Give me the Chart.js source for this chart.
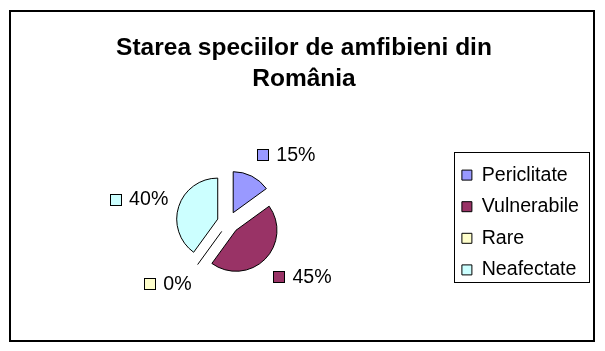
<!DOCTYPE html>
<html lang="ro">
<head>
<meta charset="utf-8">
<title>Starea speciilor de amfibieni din România</title>
<script src="https://cdn.jsdelivr.net/npm/chart.js@4.4.1/dist/chart.umd.min.js"></script>
<style>
  html, body { margin: 0; padding: 0; background: #fff; }
  canvas { display: block; }
</style>
</head>
<body>
<canvas id="grafic" width="605" height="351"></canvas>
<script>
// Datele graficului
const categorii = ['Periclitate', 'Vulnerabile', 'Rare', 'Neafectate'];
const procente = [15, 45, 0, 40];
const culori = ['#9999ff', '#993366', '#ffffcc', '#ccffff'];
const titlu = ['Starea speciilor de amfibieni din', 'România'];

const FONT = "'Liberation Sans', Arial, sans-serif";
const EXPLOZIE = 11; // cat de departe sunt impinse feliile fata de centru

// Feliile "explodate": fiecare arc e mutat pe bisectoarea lui, apoi desenat de Chart.js
const feliiExplodate = {
    id: 'feliiExplodate',
    beforeDatasetDraw(chart, args) {
        const ctx = chart.ctx;
        args.meta.data.forEach((arc) => {
            const mij = (arc.startAngle + arc.endAngle) / 2;
            ctx.save();
            ctx.translate(Math.cos(mij) * EXPLOZIE, Math.sin(mij) * EXPLOZIE);
            if (arc.endAngle - arc.startAngle === 0) {
                // felie de 0% -> doar o linie, ca in Excel
                ctx.beginPath();
                ctx.moveTo(arc.x, arc.y);
                ctx.lineTo(arc.x + Math.cos(arc.startAngle) * arc.outerRadius,
                           arc.y + Math.sin(arc.startAngle) * arc.outerRadius);
                ctx.strokeStyle = '#000';
                ctx.lineWidth = 1;
                ctx.stroke();
            } else {
                arc.draw(ctx);
            }
            ctx.restore();
        });
        return false;
    }
};

// Etichete cu procent + patratel de legenda
const eticheteProcente = {
    id: 'eticheteProcente',
    afterDatasetsDraw(chart) {
        const ctx = chart.ctx;
        const meta = chart.getDatasetMeta(0);
        const total = procente.reduce((a, b) => a + b, 0);
        ctx.save();
        ctx.font = '19.6px ' + FONT;
        ctx.textBaseline = 'middle';
        meta.data.forEach((arc, i) => {
            const mij = (arc.startAngle + arc.endAngle) / 2;
            const dx = Math.cos(mij), dy = Math.sin(mij);
            const text = Math.round(procente[i] / total * 100) + '%';
            const w = 18 + ctx.measureText(text).width;
            const ax = arc.x + dx * 64;
            const cy = arc.y + dy * 76;
            const left = dx >= 0 ? ax : ax - w;
            const sx = Math.round(left) + 0.5;
            const sy = Math.round(cy - 5.5) + 0.5;
            ctx.fillStyle = culori[i];
            ctx.fillRect(sx, sy, 11, 11);
            ctx.strokeStyle = '#000';
            ctx.lineWidth = 1;
            ctx.strokeRect(sx, sy, 11, 11);
            ctx.fillStyle = '#000';
            ctx.fillText(text, left + 19, cy + 1);
        });
        ctx.restore();
    }
};

// Chenarul exterior, titlul si chenarul legendei
const cadru = {
    id: 'cadru',
    afterDraw(chart) {
        const ctx = chart.ctx;
        ctx.save();
        ctx.strokeStyle = '#000';
        ctx.lineWidth = 2;
        ctx.strokeRect(10, 11, 584, 330);

        ctx.fillStyle = '#000';
        ctx.font = 'bold 24.5px ' + FONT;
        ctx.textAlign = 'center';
        ctx.textBaseline = 'alphabetic';
        titlu.forEach((linie, i) => ctx.fillText(linie, 304, 55 + i * 30.5));

        const boxes = chart.legend.legendHitBoxes;
        if (boxes && boxes.length) {
            const st = Math.min(...boxes.map(b => b.left)) - 8;
            const dr = Math.max(...boxes.map(b => b.left + b.width)) + 10;
            const sus = boxes[0].top - 13;
            const ultim = boxes[boxes.length - 1];
            const jos = ultim.top + ultim.height + 3;
            ctx.lineWidth = 1;
            ctx.strokeRect(Math.round(st) + 0.5, Math.round(sus) + 0.5,
                           Math.round(dr - st), Math.round(jos - sus));
        }
        ctx.restore();
    }
};

new Chart(document.getElementById('grafic'), {
    type: 'pie',
    data: {
        labels: categorii,
        datasets: [{
            data: procente,
            backgroundColor: culori,
            borderColor: '#000',
            borderWidth: 1,
            radius: 41
        }]
    },
    options: {
        responsive: false,
        animation: false,
        events: [],
        layout: { padding: { left: 6.5, right: 16, top: 104, bottom: 10 } },
        plugins: {
            title: { display: false },
            tooltip: { enabled: false },
            legend: {
                position: 'right',
                labels: {
                    color: '#000',
                    font: { family: FONT, size: 19.6 },
                    boxWidth: 10,
                    boxHeight: 10,
                    padding: 12
                }
            }
        }
    },
    plugins: [feliiExplodate, eticheteProcente, cadru]
});
</script>
</body>
</html>
